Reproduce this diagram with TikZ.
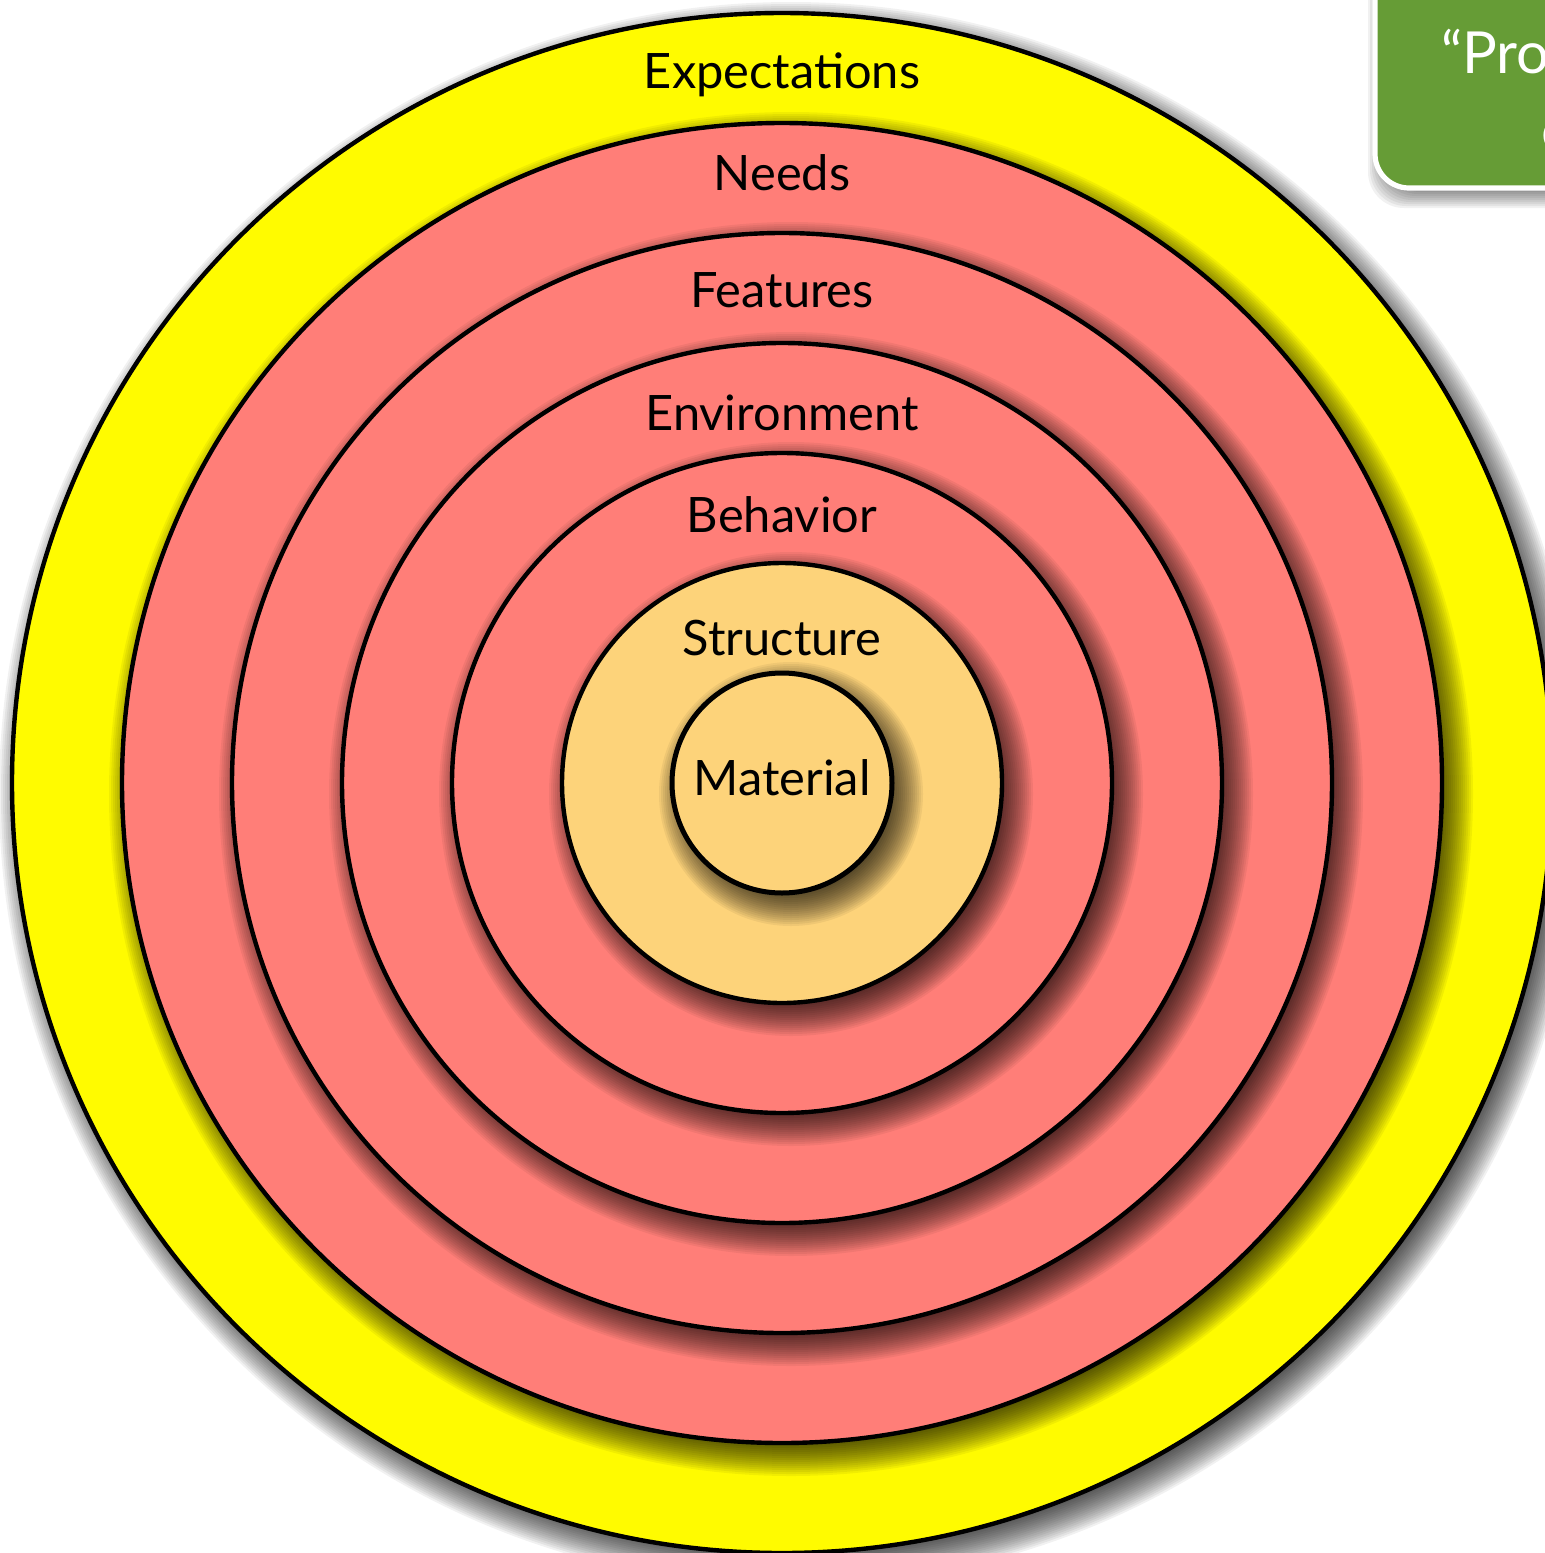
\documentclass[tikz,border=0pt]{standalone}
\usepackage{fontspec}
\setmainfont{Lato}
\usetikzlibrary{calc}

\definecolor{ringyellow}{RGB}{255,251,0}
\definecolor{ringred}{RGB}{255,126,120}
\definecolor{corecream}{RGB}{253,211,122}
\definecolor{notegreen}{RGB}{102,156,54}

\tikzset{
  ring/.style={draw=black, line width=2.2pt},
  lbl/.style={anchor=base, inner sep=0pt, text=black, font=\fontsize{24.4}{29}\selectfont},
  notetext/.style={anchor=base west, inner sep=0pt, text=white, font=\fontsize{29}{34}\selectfont},
  shadowlayer/.style={fill=black, opacity=0.055},
}

% soft drop shadow under a disc: stacked translucent discs, offset down-right
\newcommand\discshadow[2]{%
  \foreach \t in {-22,-20,...,22}{
    \fill[shadowlayer] ($(#1)+(9,11)$) circle ({#2+\t});
  }%
}

\begin{document}
\begin{tikzpicture}[x=0.5pt,y=-0.5pt]
  \clip (0,0) rectangle (1545,1553);
  \fill[white] (0,0) rectangle (1545,1553);

  \coordinate (c) at (782,783);

  % nested rings, outermost first
  \discshadow{c}{770}
  \path[ring, fill=ringyellow] (c) circle (770);
  \discshadow{c}{660}
  \path[ring, fill=ringred] (c) circle (660);
  \discshadow{c}{550}
  \path[ring, fill=ringred] (c) circle (550);
  \discshadow{c}{440}
  \path[ring, fill=ringred] (c) circle (440);
  \discshadow{c}{330}
  \path[ring, fill=ringred] (c) circle (330);
  \discshadow{c}{220}
  \path[ring, fill=corecream] (c) circle (220);
  \discshadow{c}{110}
  \path[ring, fill=corecream, line width=2.5pt] (c) circle (110);

  % ring labels
  \node[lbl] (expect) at (782,88)  {Expectations};
  \node[lbl] (needs)  at (782,190) {Needs};
  \node[lbl] (feat)   at (782,307) {Features};
  \node[lbl] (env)    at (782,430) {Environment};
  \node[lbl] (behav)  at (782,532) {Behavior};
  \node[lbl] (struct) at (782,655) {Structure};
  \node[lbl] (mat)    at (782,795) {Material};

  % callout box in the corner
  \foreach \t in {-10,-8,...,10}{
    \fill[shadowlayer, rounded corners=18pt] (1378-\t,-60) rectangle (1800,198+\t);
  }
  \path[draw=white, line width=2.6pt, fill=notegreen, rounded corners=17pt]
    (1375,-60) rectangle (1800,188);
  \node[notetext] (quote) at (1441,73) {“Pro};
  \node[notetext] (quote2) at (1541,150) {c};
\end{tikzpicture}
\end{document}
